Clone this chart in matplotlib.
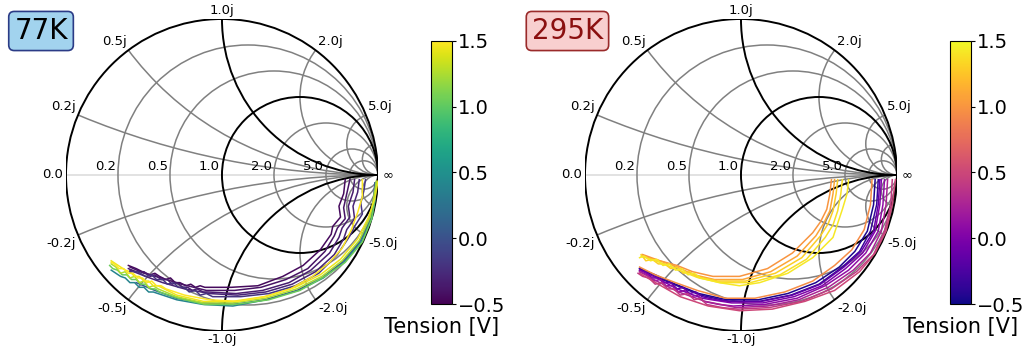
import numpy as np
import matplotlib
matplotlib.use("Agg")
import matplotlib.pyplot as plt
from matplotlib.patches import Circle
from matplotlib.colors import Normalize
from matplotlib.cm import ScalarMappable

# Smith chart grid (normalised resistance / reactance)
r_grid = [0.2, 0.5, 1.0, 2.0, 5.0, 10.0]
x_grid = [0.2, 0.5, 1.0, 2.0, 5.0, 10.0]
r_labels = [0.2, 0.5, 1.0, 2.0, 5.0]
x_labels = [0.2, 0.5, 1.0, 2.0, 5.0]

tension_ticks = [-0.5, 0.0, 0.5, 1.0, 1.5]

# 77K : S11 sweeps (real / imaginary parts), one list per applied tension
cold_tension = [0.4, 0.1, 1.05, 1.25, 1.45, -0.45, -0.4, -0.35, -0.3, -0.2, 1.5]
cold_re = [
    [0.99, 0.98, 0.96, 0.89, 0.78, 0.65, 0.49, 0.28, 0.07, -0.12, -0.29, -0.44, -0.47, -0.50, -0.53,
     -0.56, -0.59, -0.62, -0.65, -0.68, -0.71],
    [0.98, 0.97, 0.95, 0.88, 0.77, 0.64, 0.48, 0.28, 0.07, -0.12, -0.29, -0.43, -0.55],
    [0.99, 0.98, 0.96, 0.90, 0.79, 0.66, 0.50, 0.30, 0.08, -0.11, -0.28, -0.40, -0.43, -0.46, -0.49,
     -0.52, -0.55, -0.58, -0.61, -0.64, -0.67, -0.70, -0.72],
    [0.99, 0.97, 0.95, 0.88, 0.77, 0.64, 0.48, 0.28, 0.07, -0.12, -0.29, -0.41, -0.44, -0.47, -0.50,
     -0.53, -0.56, -0.59, -0.62, -0.65, -0.68, -0.71],
    [1.00, 0.98, 0.94, 0.87, 0.76, 0.63, 0.47, 0.27, 0.07, -0.12, -0.29, -0.41, -0.44, -0.47, -0.50,
     -0.53, -0.56, -0.59, -0.62, -0.65, -0.68, -0.71],
    [0.79, 0.78, 0.75, 0.76, 0.71, 0.70, 0.63, 0.52, 0.39, 0.23, 0.06, -0.11, -0.14, -0.17, -0.20,
     -0.23, -0.27, -0.30, -0.33, -0.36, -0.40, -0.43, -0.46, -0.51, -0.55, -0.60],
    [0.82, 0.80, 0.78, 0.79, 0.74, 0.72, 0.66, 0.55, 0.41, 0.25, 0.08, -0.10, -0.26, -0.39, -0.50, -0.59],
    [0.85, 0.84, 0.81, 0.82, 0.77, 0.75, 0.69, 0.57, 0.43, 0.26, 0.09, -0.09, -0.12, -0.16, -0.19,
     -0.22, -0.25, -0.29, -0.32, -0.35, -0.39, -0.43, -0.46, -0.50, -0.55, -0.60],
    [0.88, 0.87, 0.84, 0.85, 0.80, 0.78, 0.72, 0.60, 0.45, 0.28, 0.10, -0.08, -0.24, -0.38, -0.49, -0.59],
    [0.92, 0.91, 0.89, 0.90, 0.85, 0.82, 0.74, 0.62, 0.47, 0.30, 0.12, -0.06, -0.10, -0.14, -0.17,
     -0.21, -0.24, -0.28, -0.31, -0.35, -0.38, -0.42, -0.45, -0.49, -0.54, -0.59],
    [0.90, 0.90, 0.87, 0.83, 0.77, 0.69, 0.58, 0.44, 0.28, 0.10, -0.08, -0.24, -0.36, -0.39, -0.42,
     -0.45, -0.48, -0.51, -0.54, -0.57, -0.60, -0.63, -0.66, -0.69, -0.71],
]
cold_im = [
    [-0.05, -0.17, -0.28, -0.43, -0.56, -0.66, -0.74, -0.80, -0.84, -0.83, -0.80, -0.75, -0.75, -0.72, -0.72,
     -0.69, -0.69, -0.66, -0.65, -0.63, -0.61],
    [-0.05, -0.17, -0.28, -0.43, -0.56, -0.66, -0.74, -0.80, -0.83, -0.82, -0.79, -0.74, -0.69],
    [-0.05, -0.16, -0.28, -0.43, -0.56, -0.65, -0.74, -0.80, -0.83, -0.83, -0.79, -0.75, -0.73, -0.73, -0.70,
     -0.70, -0.67, -0.67, -0.64, -0.64, -0.61, -0.60, -0.58],
    [-0.04, -0.16, -0.27, -0.42, -0.55, -0.65, -0.73, -0.79, -0.82, -0.82, -0.78, -0.73, -0.71, -0.72, -0.68,
     -0.69, -0.65, -0.66, -0.62, -0.63, -0.59, -0.57],
    [-0.04, -0.15, -0.27, -0.41, -0.54, -0.64, -0.72, -0.78, -0.81, -0.81, -0.77, -0.71, -0.71, -0.68, -0.68,
     -0.65, -0.65, -0.62, -0.61, -0.59, -0.57, -0.55],
    [-0.03, -0.12, -0.20, -0.27, -0.33, -0.38, -0.48, -0.58, -0.65, -0.71, -0.72, -0.72, -0.71, -0.72, -0.70,
     -0.71, -0.69, -0.69, -0.66, -0.67, -0.65, -0.63, -0.64, -0.62, -0.60, -0.58],
    [-0.03, -0.12, -0.21, -0.28, -0.34, -0.39, -0.49, -0.60, -0.67, -0.72, -0.74, -0.74, -0.70, -0.66, -0.63, -0.59],
    [-0.03, -0.11, -0.20, -0.27, -0.34, -0.40, -0.50, -0.61, -0.69, -0.74, -0.76, -0.75, -0.75, -0.73, -0.74,
     -0.72, -0.72, -0.69, -0.70, -0.67, -0.67, -0.64, -0.65, -0.62, -0.62, -0.60],
    [-0.03, -0.11, -0.20, -0.28, -0.35, -0.41, -0.51, -0.62, -0.70, -0.75, -0.77, -0.76, -0.73, -0.69, -0.65, -0.61],
    [-0.03, -0.10, -0.18, -0.25, -0.33, -0.39, -0.51, -0.63, -0.71, -0.76, -0.78, -0.78, -0.76, -0.77, -0.74,
     -0.75, -0.72, -0.72, -0.69, -0.70, -0.67, -0.67, -0.64, -0.65, -0.62, -0.62],
    [-0.03, -0.14, -0.24, -0.35, -0.47, -0.56, -0.65, -0.73, -0.78, -0.81, -0.80, -0.77, -0.73, -0.71, -0.71,
     -0.68, -0.69, -0.66, -0.66, -0.63, -0.63, -0.60, -0.60, -0.57, -0.56],
]

# 295K : S11 sweeps
warm_tension = [1.0, 1.1, 1.3, 1.38, 1.42, -0.45, -0.35, -0.15, 0.0, 0.1, 0.25, 0.4, 0.5, 0.95]
warm_re = [
    [0.58, 0.57, 0.55, 0.51, 0.46, 0.33, 0.17, -0.01, -0.18, -0.31, -0.41, -0.52, -0.63],
    [0.60, 0.59, 0.57, 0.53, 0.48, 0.36, 0.19, 0.01, -0.17, -0.30, -0.41, -0.52, -0.63],
    [0.62, 0.61, 0.59, 0.56, 0.51, 0.39, 0.22, 0.03, -0.15, -0.29, -0.33, -0.37, -0.41, -0.45,
     -0.49, -0.53, -0.57, -0.61, -0.64],
    [0.65, 0.64, 0.62, 0.59, 0.54, 0.42, 0.25, 0.06, -0.13, -0.27, -0.40, -0.52, -0.64],
    [0.69, 0.68, 0.65, 0.62, 0.59, 0.46, 0.30, 0.12, -0.01, -0.14, -0.26, -0.30, -0.34, -0.38,
     -0.42, -0.46, -0.50, -0.54, -0.58, -0.62, -0.65],
    [0.86, 0.85, 0.81, 0.73, 0.63, 0.48, 0.30, 0.11, -0.09, -0.27, -0.42, -0.55, -0.65],
    [0.88, 0.87, 0.83, 0.76, 0.65, 0.50, 0.32, 0.12, -0.08, -0.26, -0.41, -0.55, -0.65],
    [0.89, 0.88, 0.85, 0.77, 0.66, 0.51, 0.33, 0.13, -0.07, -0.16, -0.25, -0.29, -0.33, -0.37,
     -0.41, -0.45, -0.49, -0.53, -0.57, -0.61, -0.65],
    [0.90, 0.89, 0.86, 0.78, 0.67, 0.52, 0.34, 0.14, -0.06, -0.25, -0.41, -0.54, -0.65],
    [0.92, 0.91, 0.88, 0.80, 0.69, 0.54, 0.36, 0.15, -0.05, -0.14, -0.24, -0.28, -0.32, -0.36,
     -0.40, -0.44, -0.48, -0.52, -0.56, -0.60, -0.65],
    [0.94, 0.93, 0.90, 0.83, 0.72, 0.56, 0.37, 0.17, -0.03, -0.23, -0.40, -0.54, -0.65],
    [0.97, 0.96, 0.92, 0.85, 0.74, 0.58, 0.39, 0.18, -0.02, -0.12, -0.22, -0.26, -0.30, -0.34,
     -0.39, -0.43, -0.47, -0.51, -0.55, -0.59, -0.63, -0.66],
    [0.99, 0.97, 0.93, 0.86, 0.76, 0.60, 0.41, 0.20, -0.01, -0.21, -0.39, -0.53, -0.65],
    [0.84, 0.83, 0.79, 0.71, 0.60, 0.46, 0.28, 0.09, -0.10, -0.28, -0.42, -0.55, -0.65],
]
warm_im = [
    [-0.03, -0.12, -0.22, -0.30, -0.37, -0.50, -0.60, -0.65, -0.65, -0.62, -0.58, -0.55, -0.51],
    [-0.03, -0.12, -0.23, -0.31, -0.39, -0.52, -0.62, -0.67, -0.67, -0.64, -0.59, -0.55, -0.52],
    [-0.03, -0.12, -0.23, -0.31, -0.39, -0.53, -0.63, -0.68, -0.68, -0.65, -0.62, -0.63, -0.59,
     -0.60, -0.57, -0.57, -0.54, -0.55, -0.51],
    [-0.03, -0.12, -0.23, -0.32, -0.40, -0.54, -0.64, -0.69, -0.69, -0.66, -0.61, -0.56, -0.52],
    [-0.03, -0.12, -0.22, -0.31, -0.40, -0.53, -0.63, -0.69, -0.71, -0.69, -0.66, -0.63, -0.64,
     -0.60, -0.61, -0.57, -0.58, -0.54, -0.55, -0.52, -0.53],
    [-0.03, -0.19, -0.36, -0.49, -0.59, -0.69, -0.76, -0.80, -0.80, -0.76, -0.70, -0.64, -0.60],
    [-0.03, -0.19, -0.36, -0.49, -0.59, -0.70, -0.77, -0.81, -0.81, -0.77, -0.71, -0.65, -0.60],
    [-0.03, -0.19, -0.36, -0.49, -0.59, -0.70, -0.77, -0.81, -0.81, -0.80, -0.78, -0.75, -0.76,
     -0.72, -0.73, -0.69, -0.69, -0.66, -0.66, -0.62, -0.61],
    [-0.03, -0.19, -0.36, -0.50, -0.60, -0.71, -0.78, -0.82, -0.82, -0.79, -0.73, -0.66, -0.61],
    [-0.03, -0.19, -0.36, -0.50, -0.61, -0.71, -0.79, -0.83, -0.84, -0.83, -0.81, -0.77, -0.78,
     -0.74, -0.75, -0.71, -0.71, -0.67, -0.68, -0.64, -0.62],
    [-0.03, -0.19, -0.36, -0.50, -0.61, -0.72, -0.80, -0.84, -0.85, -0.81, -0.75, -0.68, -0.62],
    [-0.03, -0.19, -0.36, -0.51, -0.62, -0.73, -0.81, -0.85, -0.86, -0.85, -0.83, -0.79, -0.80,
     -0.76, -0.77, -0.73, -0.73, -0.69, -0.70, -0.66, -0.65, -0.63],
    [-0.03, -0.19, -0.36, -0.50, -0.62, -0.74, -0.81, -0.86, -0.87, -0.84, -0.78, -0.70, -0.63],
    [-0.03, -0.19, -0.35, -0.48, -0.58, -0.68, -0.75, -0.79, -0.79, -0.74, -0.69, -0.64, -0.59],
]


def smith_grid(ax):
    ax.set_xlim(-1, 1)
    ax.set_ylim(-1, 1)
    ax.axis('off')
    border = Circle((0, 0), 1, transform=ax.transData, fill=False,
                    ec='black', lw=1.4, zorder=3)
    ax.add_patch(border)
    ax.plot([-1, 1], [0, 0], color='#dddddd', lw=1.2, zorder=1)
    for r in r_grid:
        major = r == 1.0
        ax.add_patch(Circle((r / (1 + r), 0), 1 / (1 + r), fill=False,
                            ec='black' if major else 'gray',
                            lw=1.4 if major else 1.1, zorder=2 if major else 1))
    for x in x_grid:
        major = x == 1.0
        for s in (1, -1):
            p = Circle((1, s / x), 1 / x, fill=False,
                       ec='black' if major else 'gray',
                       lw=1.4 if major else 1.1, zorder=2 if major else 1)
            ax.add_patch(p)
            p.set_clip_path(border)

    fs = 9.5
    for r in r_labels:
        g = (r - 1) / (r + 1)
        ax.text(g - 0.015, 0.012, f'{r:.1f}', ha='right', va='bottom', fontsize=fs)
    ax.text(-1.02, 0, '0.0', ha='right', va='center', fontsize=fs)
    ax.text(1.03, 0, '\u221e', ha='left', va='center', fontsize=fs)
    for x in x_labels:
        for s in (1, -1):
            g = (1j * s * x - 1) / (1j * s * x + 1)
            if abs(g.real) < 0.01:
                ha, dx = 'center', 0
            elif g.real > 0:
                ha, dx = 'left', 0.015
            else:
                ha, dx = 'right', -0.012
            va = 'bottom' if s > 0 else 'top'
            ax.text(g.real + dx, g.imag + 0.015 * s, f'{s * x:.1f}j',
                    ha=ha, va=va, fontsize=fs)


norm = Normalize(vmin=-0.5, vmax=1.5)
fig = plt.figure(figsize=(10.31, 3.51), dpi=100)

panels = [
    (0.0640, 0.4180, 'viridis', cold_tension, cold_re, cold_im,
     '77K', (0.0398, 0.9117), '#a2d3ee', '#2b3b86', 'black'),
    (0.5674, 0.9214, 'plasma', warm_tension, warm_re, warm_im,
     '295K', (0.5504, 0.9117), '#f8cfcf', '#9a2a2a', '#8b1010'),
]

for (left, cleft, cmap_name, tension, re_list, im_list,
     name, pos, fc, ec, tc) in panels:
    ax = fig.add_axes([left, 0.0570, 0.3026, 0.8889])
    smith_grid(ax)
    cmap = plt.get_cmap(cmap_name)
    for v, re, im in zip(tension, re_list, im_list):
        ax.plot(re, im, color=cmap(norm(v)), lw=1.1, zorder=4)

    cax = fig.add_axes([cleft, 0.1339, 0.0204, 0.7493])
    cb = fig.colorbar(ScalarMappable(norm=norm, cmap=cmap), cax=cax,
                      ticks=tension_ticks)
    cb.ax.tick_params(labelsize=14, length=3, pad=1.5)
    cb.ax.set_xlabel('Tension [V]', fontsize=15, labelpad=9)

    fig.text(pos[0], pos[1], name, fontsize=20, ha='center', va='center',
             color=tc, bbox=dict(boxstyle='round,pad=0.2', fc=fc, ec=ec, lw=1.2))

fig.savefig('out.png', dpi=100)
